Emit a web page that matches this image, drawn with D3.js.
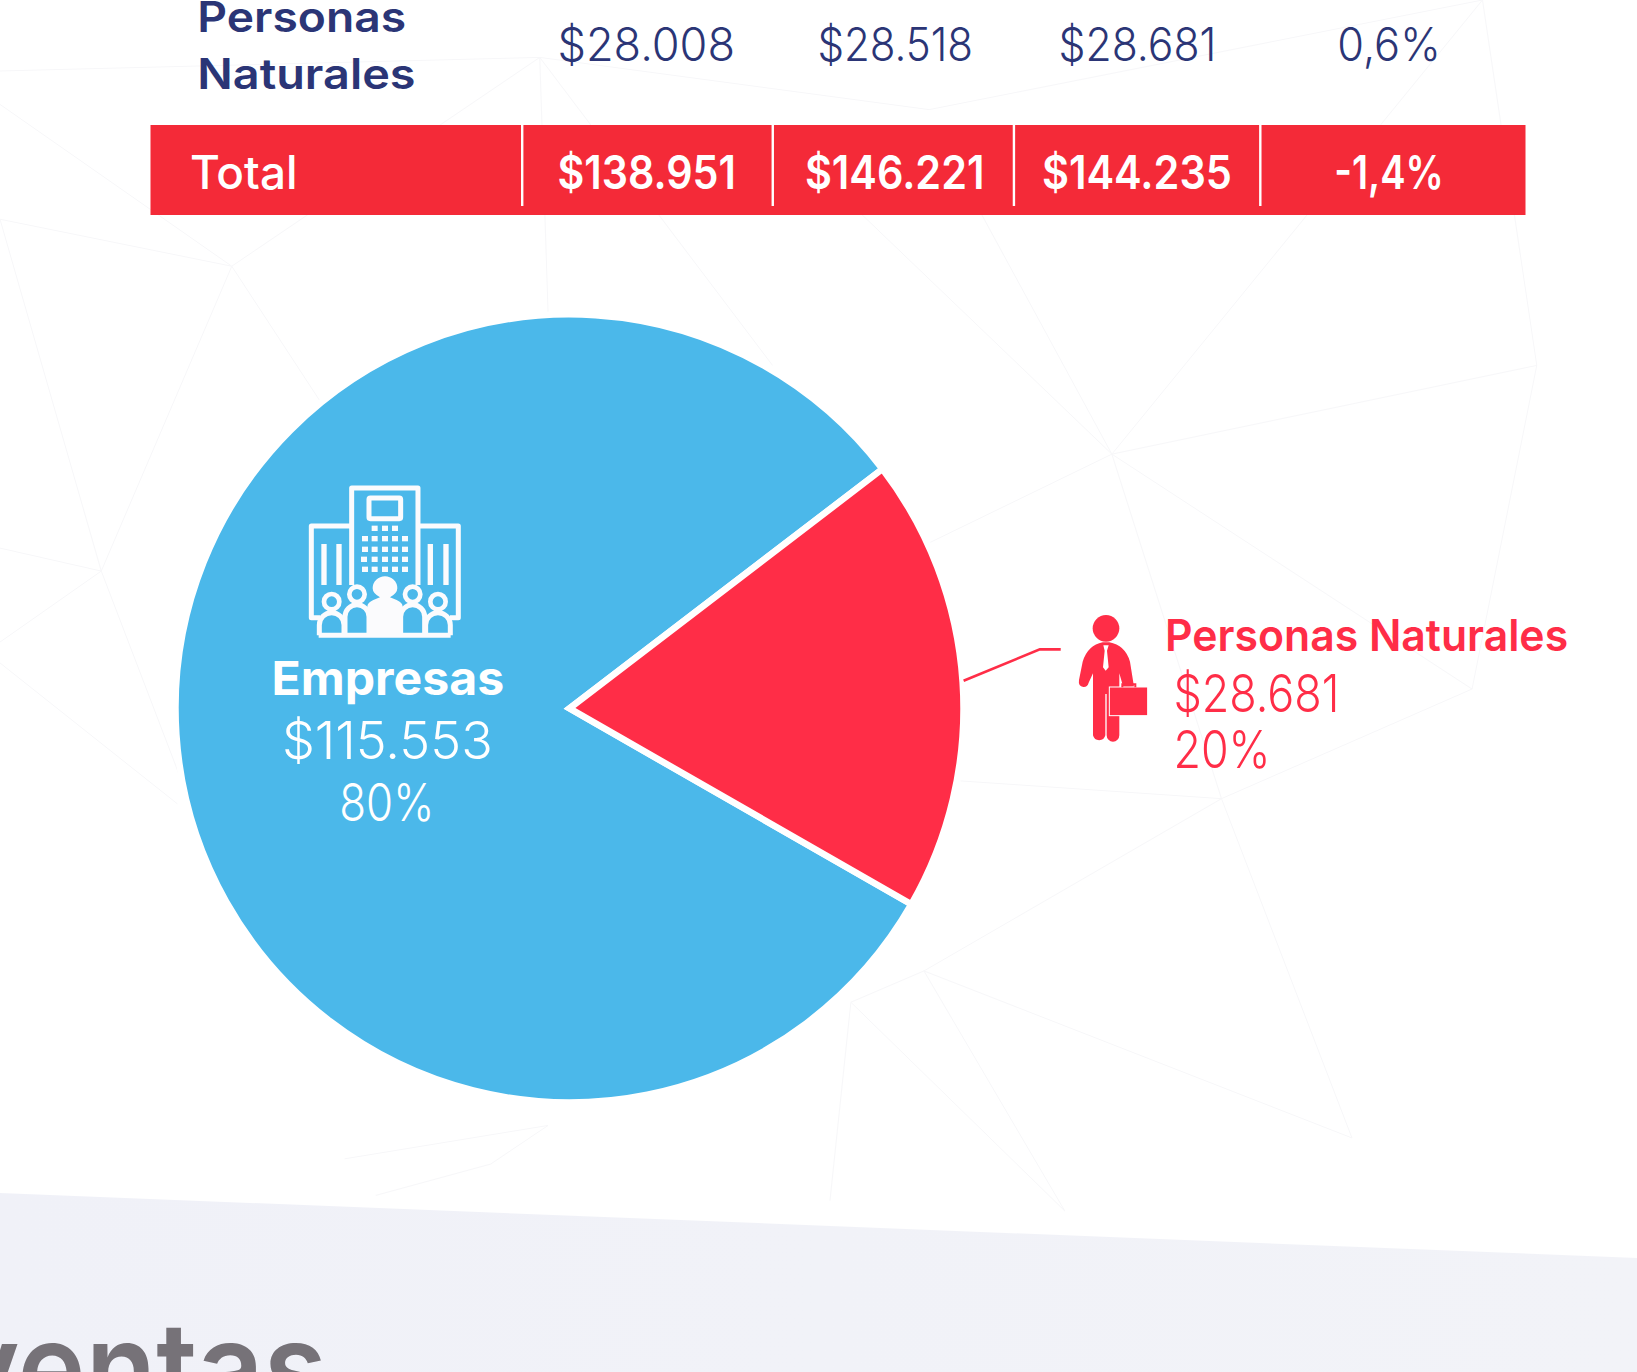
<!DOCTYPE html>
<html><head><meta charset="utf-8">
<script src="https://cdn.jsdelivr.net/npm/d3@7"></script>
<style>html,body{margin:0;padding:0;background:#fff;overflow:hidden}svg{display:block}text{font-family:Inter,"Open Sans",sans-serif}</style>
</head><body><svg id="c" width="1637" height="1372"></svg>
<script>
// ---- data ----
const categories = ["Empresas", "Personas Naturales"];
const displayedValues = [115553, 28681];
const displayedShares = [80, 20];
// the drawn slices measure about 292.8 and 67.2 degrees
const sliceShares = [81.33, 18.67];
const tableRowName = ["Personas", "Naturales"];
const personasRow = [28008, 28518, 28681];
const personasChange = 0.6;
const totalLabel = "Total";
const totalRow = [138951, 146221, 144235];
const totalChange = -1.4;
const footerWord = "ventas";

const W = 1637, H = 1372, k = 1637 / 1568;
const svg = d3.select("#c");
const es = d3.formatLocale({decimal: ",", thousands: ".", grouping: [3], currency: ["$", ""], minus: "-"});
const money = es.format("$,d"), pct = v => es.format(".1f")(v) + "%";
const RED = "#ff2d47", BLUE = "#4bb8ea", NAVY = "#2b3576", TRED = "#f42a38";

// faint low-poly background mesh (shrunk-picture coordinates)
const mesh = [[[0,68],[517,55]],[[517,55],[222,255]],[[517,55],[890,105]],[[890,105],[1420,0]],[[517,55],[740,350]],[[517,55],[525,300]],
[[222,255],[97,547]],[[222,255],[0,210]],[[222,255],[330,420]],[[97,547],[0,525]],[[97,547],[0,210]],[[97,547],[190,790]],[[97,547],[0,615]],[[0,100],[222,255]],[[0,635],[170,770]],
[[1065,435],[1472,350]],[[1065,435],[1420,0]],[[1065,435],[940,205]],[[1065,435],[825,205]],[[1065,435],[890,520]],[[1472,350],[1420,0]],[[1472,350],[1410,660]],
[[1065,435],[1410,660]],[[1410,660],[1170,765]],[[1065,435],[1170,765]],[[920,748],[1170,765]],[[1170,765],[885,930]],[[1170,765],[1295,1090]],[[885,930],[1295,1090]],[[885,930],[1020,1160]],[[885,930],[815,960]],[[815,960],[795,1150]],[[815,960],[1020,1160]],[[525,1078],[470,1115]],[[525,1078],[330,1110]],[[470,1115],[360,1145]]];
svg.append("g").selectAll("line").data(mesh).join("line")
  .attr("x1", d => d[0][0]*k).attr("y1", d => d[0][1]*k).attr("x2", d => d[1][0]*k).attr("y2", d => d[1][1]*k)
  .attr("stroke", "#f7f7f9").attr("stroke-width", 1);

// footer band
const grad = svg.append("defs").append("linearGradient").attr("id","band");
grad.append("stop").attr("offset","0").attr("stop-color","#f0f1f8");
grad.append("stop").attr("offset","1").attr("stop-color","#f2f3f8");
svg.append("polygon").attr("points", `0,1193 ${W},1258 ${W},${H} 0,${H}`).attr("fill", "url(#band)");

// text helper: x0,x1 in shrunk-picture coordinates
function label(t, x0, x1, base, size, weight, fill) {
  return svg.append("text").attr("x", x0*k).attr("y", base*k).attr("font-size", size).attr("font-weight", weight)
    .attr("fill", fill).attr("textLength", (x1-x0)*k).attr("lengthAdjust", "spacingAndGlyphs").text(t);
}

// table
svg.append("rect").attr("x", 150.5).attr("y", 125).attr("width", 1375).attr("height", 90).attr("fill", TRED);
svg.append("g").selectAll("rect").data([500, 740, 971, 1207]).join("rect")
  .attr("x", d => d*k-1).attr("y", 125).attr("width", 2.4).attr("height", 81).attr("fill", "#fff");
label(tableRowName[0], 189, 389, 31, 42, 600, NAVY);
label(tableRowName[1], 189, 398, 85, 42, 600, NAVY);
const topSpans = [[534,704],[783,932],[1014,1165]];
personasRow.forEach((v,i) => label(money(v), topSpans[i][0], topSpans[i][1], 58, 46, 300, NAVY));
label(pct(personasChange), 1281, 1380, 58, 46, 300, NAVY);
label(totalLabel, 182, 285, 181, 46, 500, "#fff");
const totSpans = [[534,705],[771,943],[998,1180]];
totalRow.forEach((v,i) => label(money(v), totSpans[i][0], totSpans[i][1], 181, 46, 600, "#fff"));
label(pct(totalChange), 1278, 1383, 181, 46, 600, "#fff");

// pie
const rad = d => d * Math.PI / 180;
const start = rad(119.8);
const pie = d3.pie().sort(null).startAngle(start).endAngle(start + 2*Math.PI);
const arc = d3.arc().innerRadius(0).outerRadius(394);
const pieG = svg.append("g").attr("transform", `translate(569.5,708.4)`);
pieG.selectAll("path").data(pie(sliceShares)).join("path")
  .attr("d", arc).attr("fill", (d,i) => [BLUE, RED][i]).attr("stroke", "#fff").attr("stroke-width", 6.5).attr("stroke-linejoin", "miter");

// leader
svg.append("polyline").attr("points", [[923,652],[996,622],[1016,622]].map(p => p.map(c => c*k).join(",")).join(" "))
  .attr("fill", "none").attr("stroke", RED).attr("stroke-width", 2.6);

// pie labels
label(categories[0], 260, 483, 666, 47, 700, "#fff");
label(money(displayedValues[0]), 270, 472, 727, 52, 300, "#fff");
label(displayedShares[0] + "%", 325, 416, 786, 52, 300, "#fff");
label(categories[1], 1116, 1502, 624, 44, 600, RED);
label(money(displayedValues[1]), 1124, 1283, 682, 52, 300, RED);
label(displayedShares[1] + "%", 1124, 1217, 736, 52, 300, RED);

// building icon (coordinates in 3x crop pixels)
const b = svg.append("g").attr("transform", "translate(280,460) scale(0.3333)");
const w = "#fbfbfd";
const st = (sel, sw=15) => sel.attr("fill", "none").attr("stroke", w).attr("stroke-width", sw).attr("stroke-linejoin", "round");
st(b.append("path").attr("d", "M215,375 V84 H414 V375"));
st(b.append("path").attr("d", "M215,198 H94 V473 H120 M414,198 H535 V473 H510"));
st(b.append("rect").attr("x",267).attr("y",114).attr("width",95).attr("height",62).attr("rx",4));
[[132,252,375],[177,252,375],[451,252,375],[498,252,375]].forEach(d =>
  b.append("rect").attr("x",d[0]-8).attr("y",d[1]).attr("width",16).attr("height",d[2]-d[1]).attr("fill",w));
const wy = [[205,[284,315,345]],[236,[255,284,315,345,375]],[268,[255,284,315,345,375]],[298,[252,284,315,345,375]],[328,[255,284,315,345,375]]];
wy.forEach(r => r[1].forEach(x => b.append("rect").attr("x",x-9).attr("y",r[0]-8).attr("width",18).attr("height",16).attr("fill",w)));
st(b.append("path").attr("d", "M116,526 H512"));
b.append("path").attr("fill", w).attr("d", "M262,526 V440 Q262,428 280,420 L300,412 Q278,400 278,385 A37,36 0 0 1 352,385 Q352,400 330,412 L350,420 Q368,428 368,440 V526 Z");
[[155,425,23],[231,403,23],[398,403,23],[474,425,23]].forEach(c => {
  st(b.append("circle").attr("cx",c[0]).attr("cy",c[1]).attr("r",c[2]),14);
});
st(b.append("path").attr("d","M118,526 V495 A37,37 0 0 1 192,495 V526"));
st(b.append("path").attr("d","M195,526 V470 A36,36 0 0 1 267,470 V526"));
st(b.append("path").attr("d","M362,526 V470 A36,36 0 0 1 434,470 V526"));
st(b.append("path").attr("d","M437,526 V495 A37,37 0 0 1 511,495 V526"));

// person icon (coordinates in 3x crop pixels)
const p = svg.append("g").attr("transform", "translate(1060,590) scale(0.3333)");
p.append("circle").attr("cx",138).attr("cy",115).attr("r",40).attr("fill",RED);
p.append("path").attr("fill",RED).attr("d","M128,157 H148 Q195,165 210,215 L222,290 L190,292 L178,250 V436 A19,19 0 0 1 140,436 V312 H136 V436 A19,19 0 0 1 99,436 V250 L86,278 Q82,292 70,291 Q54,289 57,270 L68,215 Q84,165 128,157 Z");
p.append("path").attr("fill","#fff").attr("d","M130,166 H146 L141,182 L146,232 L137,242 L129,232 L134,182 Z");
p.append("rect").attr("x",148).attr("y",291).attr("width",115).attr("height",86).attr("fill",RED).attr("stroke","#fff").attr("stroke-width",3);
p.append("path").attr("fill","none").attr("stroke",RED).attr("stroke-width",6).attr("d","M187,292 V283 H226 V292");

// footer word, cut by the page edge
svg.append("text").attr("x",327).attr("y",1412).attr("text-anchor","end").attr("font-size",125).attr("font-weight",600)
  .attr("fill","#767278").attr("textLength",375).attr("lengthAdjust","spacingAndGlyphs").text(footerWord);
</script></body></html>
